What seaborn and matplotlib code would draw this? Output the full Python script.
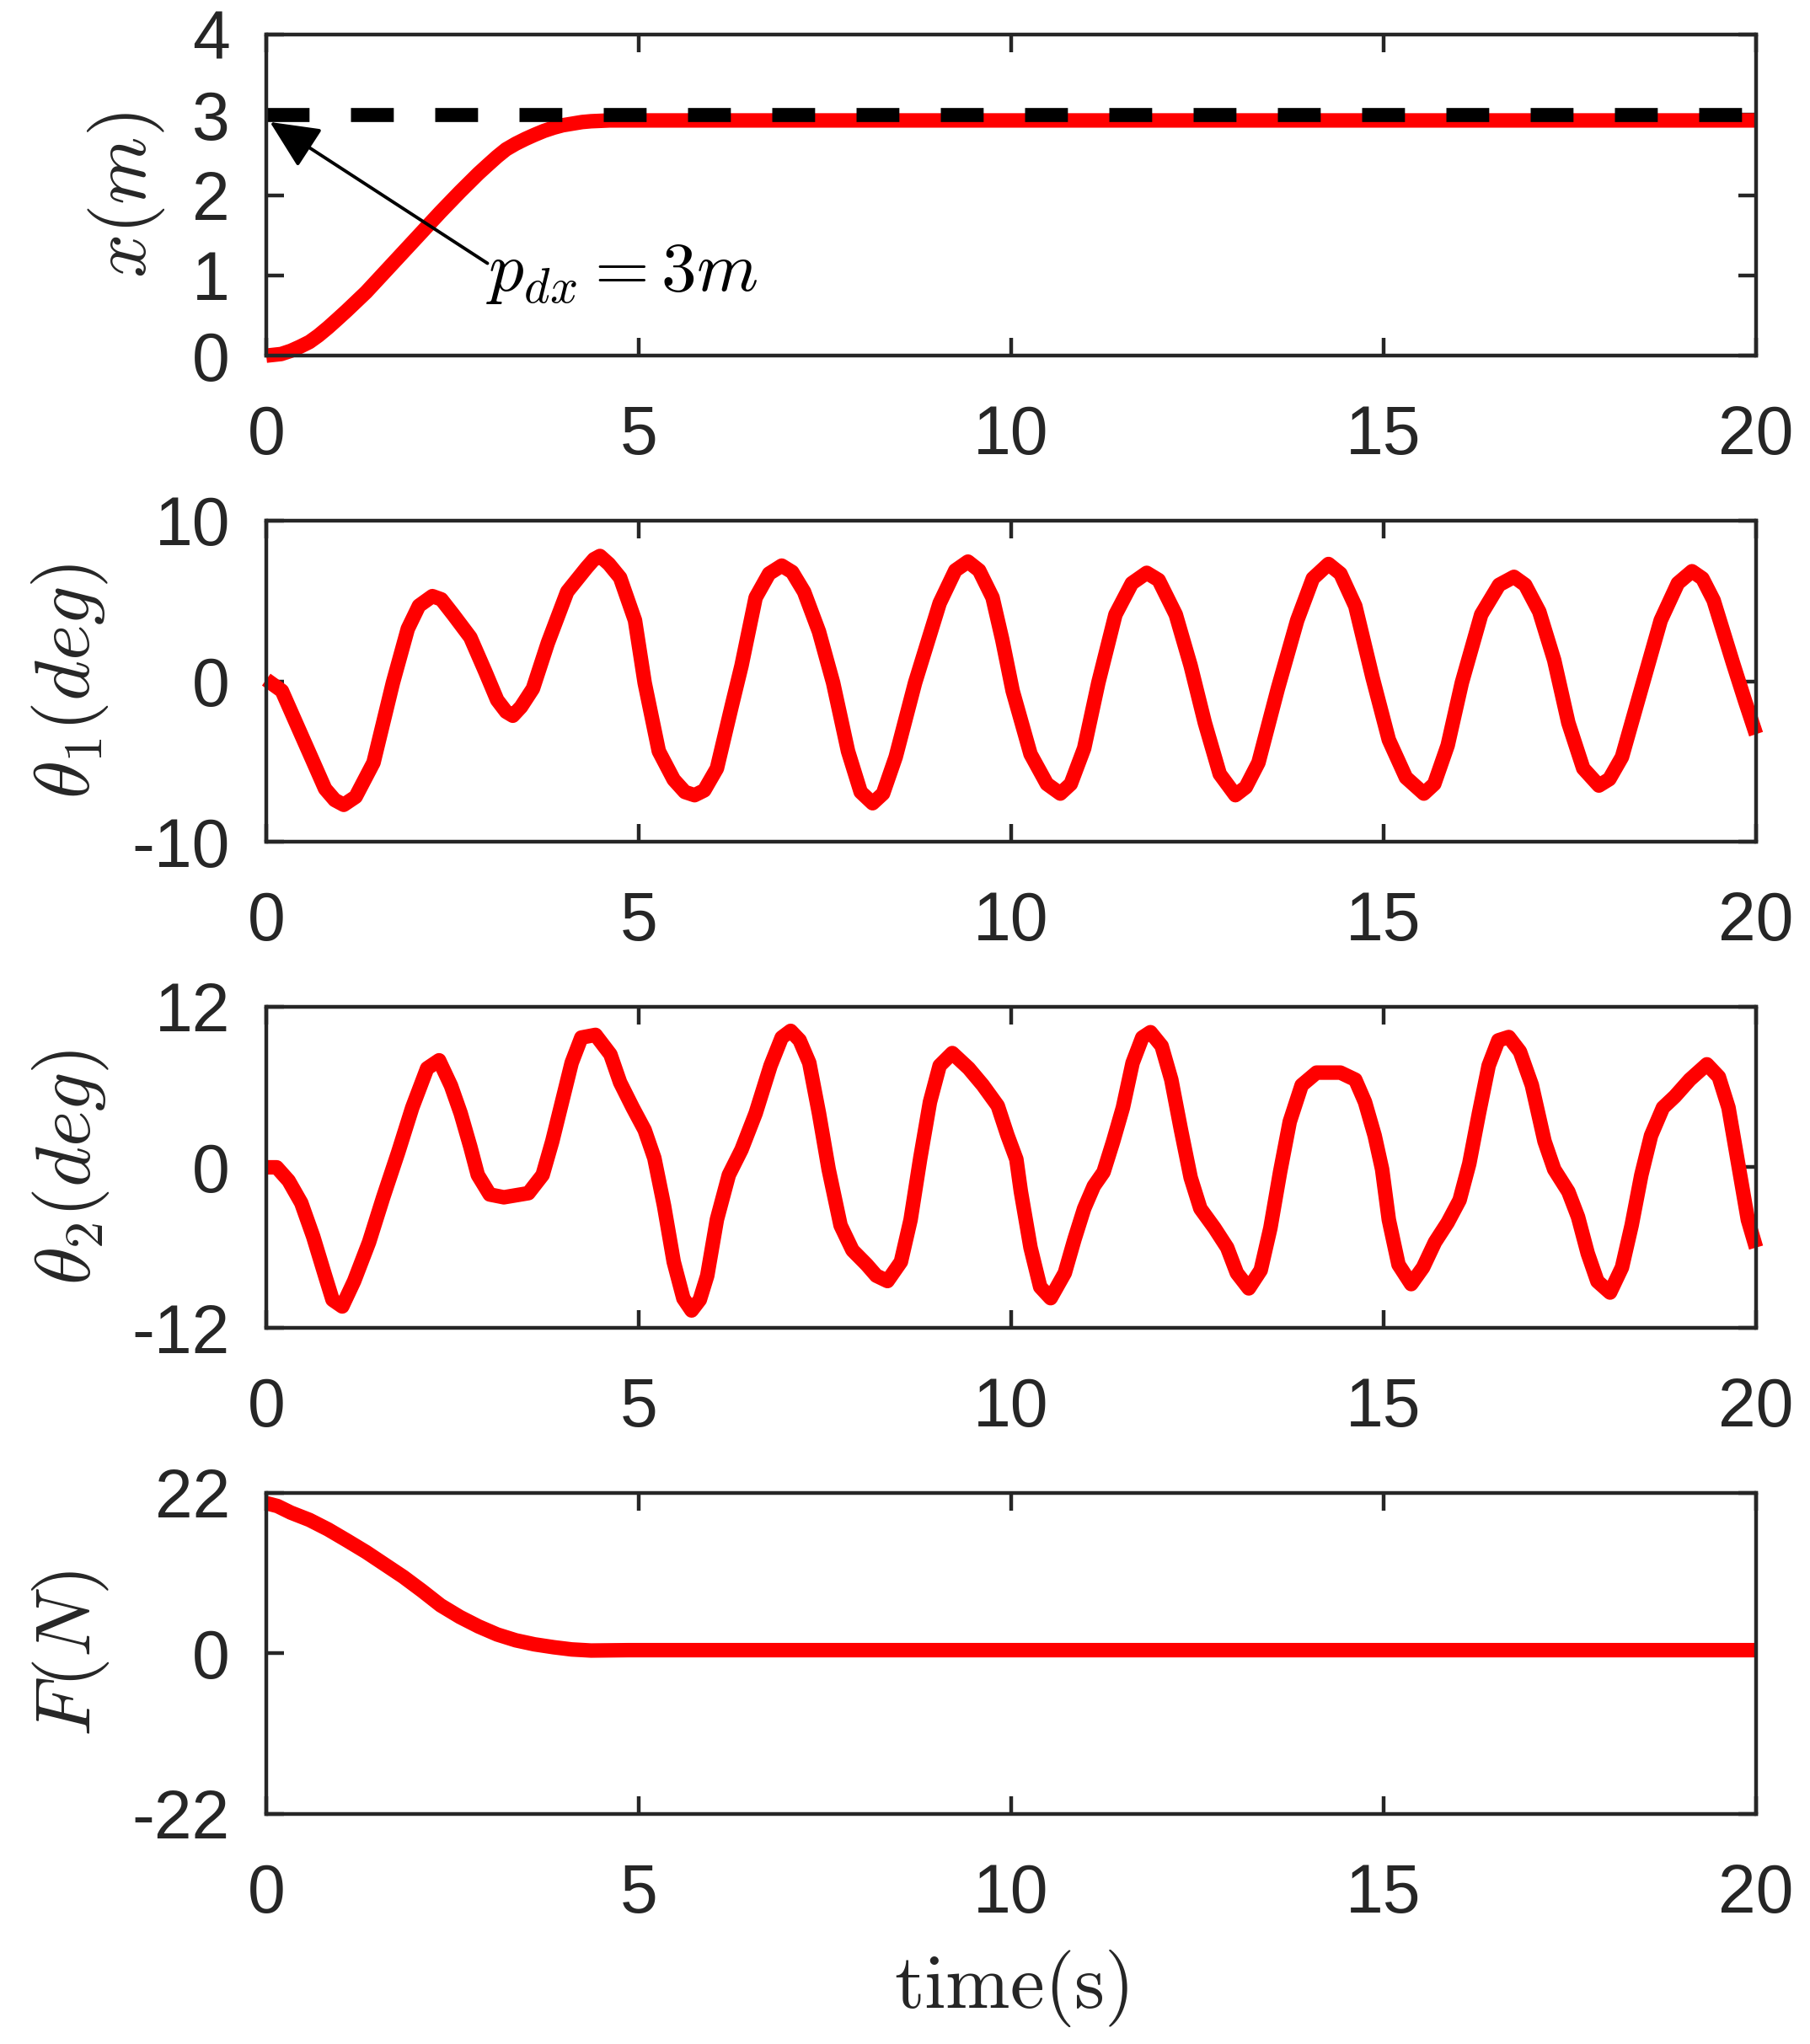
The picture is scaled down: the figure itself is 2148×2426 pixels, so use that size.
import matplotlib
matplotlib.use("Agg")
import matplotlib.pyplot as plt
import seaborn as sns

# cart position x(m)
t_x = [0, 0.2, 0.33, 0.45, 0.58, 0.7, 0.83, 0.95, 1.08, 1.34, 1.59, 1.84, 2.09, 2.34, 2.6, 2.85,
       2.98, 3.1, 3.22, 3.35, 3.48, 3.6, 3.73, 3.86, 3.98, 4.11, 4.24, 4.36, 4.61, 5, 10, 15, 20]
x_pos = [0, 0.02, 0.06, 0.11, 0.17, 0.25, 0.35, 0.45, 0.56, 0.79, 1.04, 1.29, 1.54, 1.79, 2.04,
         2.27, 2.38, 2.48, 2.57, 2.64, 2.7, 2.75, 2.8, 2.84, 2.87, 2.89, 2.91, 2.92, 2.93, 2.93,
         2.93, 2.93, 2.93]
p_dx = 3
t_ref = [0, 20]

# pendulum angle theta1 (deg)
t_th1 = [0, 0.21, 0.4, 0.6, 0.79, 0.92, 1.04, 1.2, 1.44, 1.7, 1.9, 2.05, 2.23, 2.35, 2.51, 2.74,
         2.94, 3.1, 3.22, 3.31, 3.42, 3.58, 3.78, 4.04, 4.3, 4.4, 4.48, 4.6, 4.75, 4.95, 5.08,
         5.27, 5.47, 5.62, 5.75, 5.88, 6.05, 6.25, 6.38, 6.57, 6.75, 6.92, 7.06, 7.22, 7.42,
         7.61, 7.81, 7.98, 8.14, 8.28, 8.45, 8.71, 9.04, 9.25, 9.42, 9.57, 9.75, 9.88, 10.02,
         10.26, 10.48, 10.66, 10.8, 10.98, 11.17, 11.4, 11.62, 11.82, 11.98, 12.21, 12.41, 12.6,
         12.8, 13.01, 13.15, 13.32, 13.58, 13.84, 14.05, 14.26, 14.42, 14.62, 14.85, 15.07, 15.3,
         15.54, 15.68, 15.86, 16.05, 16.31, 16.55, 16.75, 16.9, 17.09, 17.29, 17.48, 17.68,
         17.89, 18.03, 18.2, 18.46, 18.72, 18.95, 19.14, 19.28, 19.43, 19.69, 19.85, 20.0]
theta1 = [0.1, -0.6, -2.6, -4.7, -6.7, -7.4, -7.7, -7.2, -5.07, -0.1, 3.26, 4.7, 5.3, 5.1, 4.15,
          2.73, 0.6, -1.17, -1.9, -2.15, -1.6, -0.46, 2.38, 5.57, 7.07, 7.6, 7.8, 7.3, 6.45, 3.79,
          -0.1, -4.36, -6.13, -6.9, -7.1, -6.8, -5.43, -1.52, 0.96, 5.21, 6.7, 7.2, 6.8, 5.57,
          3.09, -0.1, -4.36, -6.9, -7.6, -7.0, -4.72, -0.1, 4.86, 6.9, 7.45, 6.9, 5.21, 2.6, -0.6,
          -4.54, -6.4, -7.0, -6.4, -4.18, -0.1, 4.15, 6.1, 6.75, 6.3, 4.15, 0.96, -2.59, -5.78,
          -7.1, -6.6, -5.07, -0.46, 3.79, 6.4, 7.3, 6.7, 4.68, 0.25, -3.65, -6.0, -7.0, -6.4,
          -4.0, -0.1, 4.15, 6.0, 6.5, 6.0, 4.33, 1.31, -2.59, -5.43, -6.5, -6.1, -4.72, -0.46,
          3.79, 6.1, 6.85, 6.4, 5.04, 1.13, -1.2, -3.3]

# pendulum angle theta2 (deg)
t_th2 = [0, 0.14, 0.3, 0.47, 0.63, 0.79, 0.89, 1.02, 1.18, 1.38, 1.57, 1.77, 1.96, 2.16, 2.32,
         2.48, 2.61, 2.74, 2.84, 3.0, 3.19, 3.52, 3.71, 3.84, 3.97, 4.1, 4.23, 4.42, 4.62, 4.75,
         4.92, 5.08, 5.21, 5.34, 5.47, 5.6, 5.71, 5.82, 5.92, 6.05, 6.21, 6.38, 6.57, 6.77, 6.92,
         7.04, 7.16, 7.29, 7.42, 7.55, 7.71, 7.87, 8.06, 8.19, 8.34, 8.52, 8.65, 8.78, 8.91, 9.04,
         9.21, 9.43, 9.62, 9.82, 9.95, 10.07, 10.13, 10.26, 10.39, 10.53, 10.72, 10.85, 10.98,
         11.11, 11.24, 11.37, 11.5, 11.63, 11.76, 11.87, 12.02, 12.15, 12.28, 12.41, 12.54,
         12.73, 12.9, 13.03, 13.19, 13.35, 13.48, 13.61, 13.74, 13.9, 14.1, 14.42, 14.62, 14.75,
         14.88, 14.98, 15.07, 15.2, 15.37, 15.53, 15.69, 15.86, 16.02, 16.15, 16.28, 16.41,
         16.54, 16.68, 16.83, 16.99, 17.16, 17.29, 17.48, 17.61, 17.74, 17.87, 18.04, 18.2,
         18.33, 18.46, 18.59, 18.75, 18.91, 19.11, 19.34, 19.5, 19.63, 19.76, 19.89, 20.0]
theta2 = [0, 0, -1.0, -2.66, -5.17, -8.1, -9.9, -10.4, -8.5, -5.6, -2.24, 1.1, 4.46, 7.4, 8.0,
          6.1, 4.04, 1.53, -0.57, -2.03, -2.24, -1.93, -0.57, 1.95, 4.88, 7.81, 9.7, 9.9, 8.44,
          6.35, 4.46, 2.79, 0.69, -2.87, -7.06, -9.8, -10.7, -9.9, -8.1, -3.9, -0.57, 1.32, 4.04,
          7.6, 9.7, 10.2, 9.5, 7.81, 4.04, -0.15, -4.34, -6.2, -7.27, -8.1, -8.5, -7.06, -3.92,
          0.69, 4.88, 7.6, 8.54, 7.4, 6.14, 4.6, 2.4, 0.6, -1.8, -6.0, -8.94, -9.78, -7.9, -5.38,
          -3.08, -1.4, -0.36, 1.95, 4.46, 7.8, 9.7, 10.1, 9.07, 6.55, 2.79, -0.77, -3.08, -4.54,
          -6.0, -7.9, -9.05, -7.69, -4.54, -0.36, 3.41, 6.14, 7.08, 7.08, 6.55, 4.88, 2.37, -0.15,
          -3.92, -7.27, -8.73, -7.48, -5.59, -4.13, -2.45, 0.27, 4.04, 7.6, 9.49, 9.74, 8.65,
          6.14, 1.95, -0.15, -1.82, -3.71, -6.43, -8.52, -9.36, -7.48, -4.33, -0.57, 2.37, 4.46,
          5.3, 6.55, 7.7, 6.76, 4.46, 0.27, -3.92, -6.0]

# control force F(N)
t_f = [0, 0.15, 0.33, 0.58, 0.83, 1.08, 1.34, 1.59, 1.84, 2.09, 2.34, 2.6, 2.85, 3.1, 3.35, 3.6,
       3.86, 4.1, 4.36, 4.86, 10, 15, 20]
force = [20.6, 20.2, 19.3, 18.3, 17.0, 15.5, 13.9, 12.2, 10.5, 8.6, 6.6, 5.0, 3.7, 2.6, 1.8, 1.25,
         0.85, 0.55, 0.4, 0.45, 0.45, 0.45, 0.45]

ylabels = [r"$x(m)$", r"$\theta_1(deg)$", r"$\theta_2(deg)$", r"$F(N)$"]
yticks = [[0, 1, 2, 3, 4], [-10, 0, 10], [-12, 0, 12], [-22, 0, 22]]
xticks = [0, 5, 10, 15, 20]
label_x = [-0.094, -0.132, -0.131, -0.131]

sns.set_style("ticks")
plt.rcParams["font.family"] = ["Liberation Sans", "DejaVu Sans"]
plt.rcParams["mathtext.fontset"] = "cm"
plt.rcParams["axes.unicode_minus"] = False

gray = "#262626"
red = "#ff0000"

fig = plt.figure(figsize=(10.74, 12.13), dpi=200)
axes = fig.subplots(4, 1)
fig.subplots_adjust(left=0.1471, right=0.9702, top=1 - 41 / 2426, bottom=1 - 2153 / 2426,
                    hspace=0.514)

series = [(t_x, x_pos), (t_th1, theta1), (t_th2, theta2), (t_f, force)]
for i, ax in enumerate(axes):
    tt, vv = series[i]
    sns.lineplot(x=tt, y=vv, ax=ax, color=red, linewidth=6.2, estimator=None, sort=False,
                 clip_on=False, solid_joinstyle="round", solid_capstyle="butt")
    ax.set_xlim(0, 20)
    ax.set_ylim(yticks[i][0], yticks[i][-1])
    ax.set_xticks(xticks)
    ax.set_yticks(yticks[i])
    ax.set_xticklabels([str(v) for v in xticks])
    ax.set_yticklabels([str(v) for v in yticks[i]])
    ax.tick_params(direction="in", length=7.6, width=1.6, top=True, right=True,
                   labelsize=29, color=gray, labelcolor=gray)
    ax.tick_params(axis="x", pad=21)
    ax.tick_params(axis="y", pad=15.5)
    for sp in ax.spines.values():
        sp.set_visible(True)
        sp.set_linewidth(1.6)
        sp.set_color(gray)
    ax.set_ylabel(ylabels[i], fontsize=33, color=gray)
    ax.yaxis.set_label_coords(label_x[i], 0.5)
    ax.yaxis.label.set_va("center")
    ax.set_xlabel("")

# reference position and annotation on the first panel
ax = axes[0]
sns.lineplot(x=t_ref, y=[p_dx, p_dx], ax=ax, color="k", linewidth=6.0,
             linestyle=(0, (3.05, 2.95)), dash_capstyle="butt", estimator=None, sort=False,
             clip_on=False)
ax.annotate("", xy=(0.05, 2.91), xytext=(2.97, 1.15),
            arrowprops=dict(arrowstyle="-|>,head_length=0.9,head_width=0.42", mutation_scale=20,
                            color="k", lw=1.4, shrinkA=0, shrinkB=0))
ax.text(2.95, 0.81, r"$p_{dx}=3m$", fontsize=30, va="baseline", ha="left", color="k")

axes[3].set_xlabel(r"$\mathrm{time(s)}$", fontsize=33, color=gray)
axes[3].xaxis.set_label_coords(0.5, -0.542)
axes[3].xaxis.label.set_va("center")

fig.savefig("out.png", dpi=200)
